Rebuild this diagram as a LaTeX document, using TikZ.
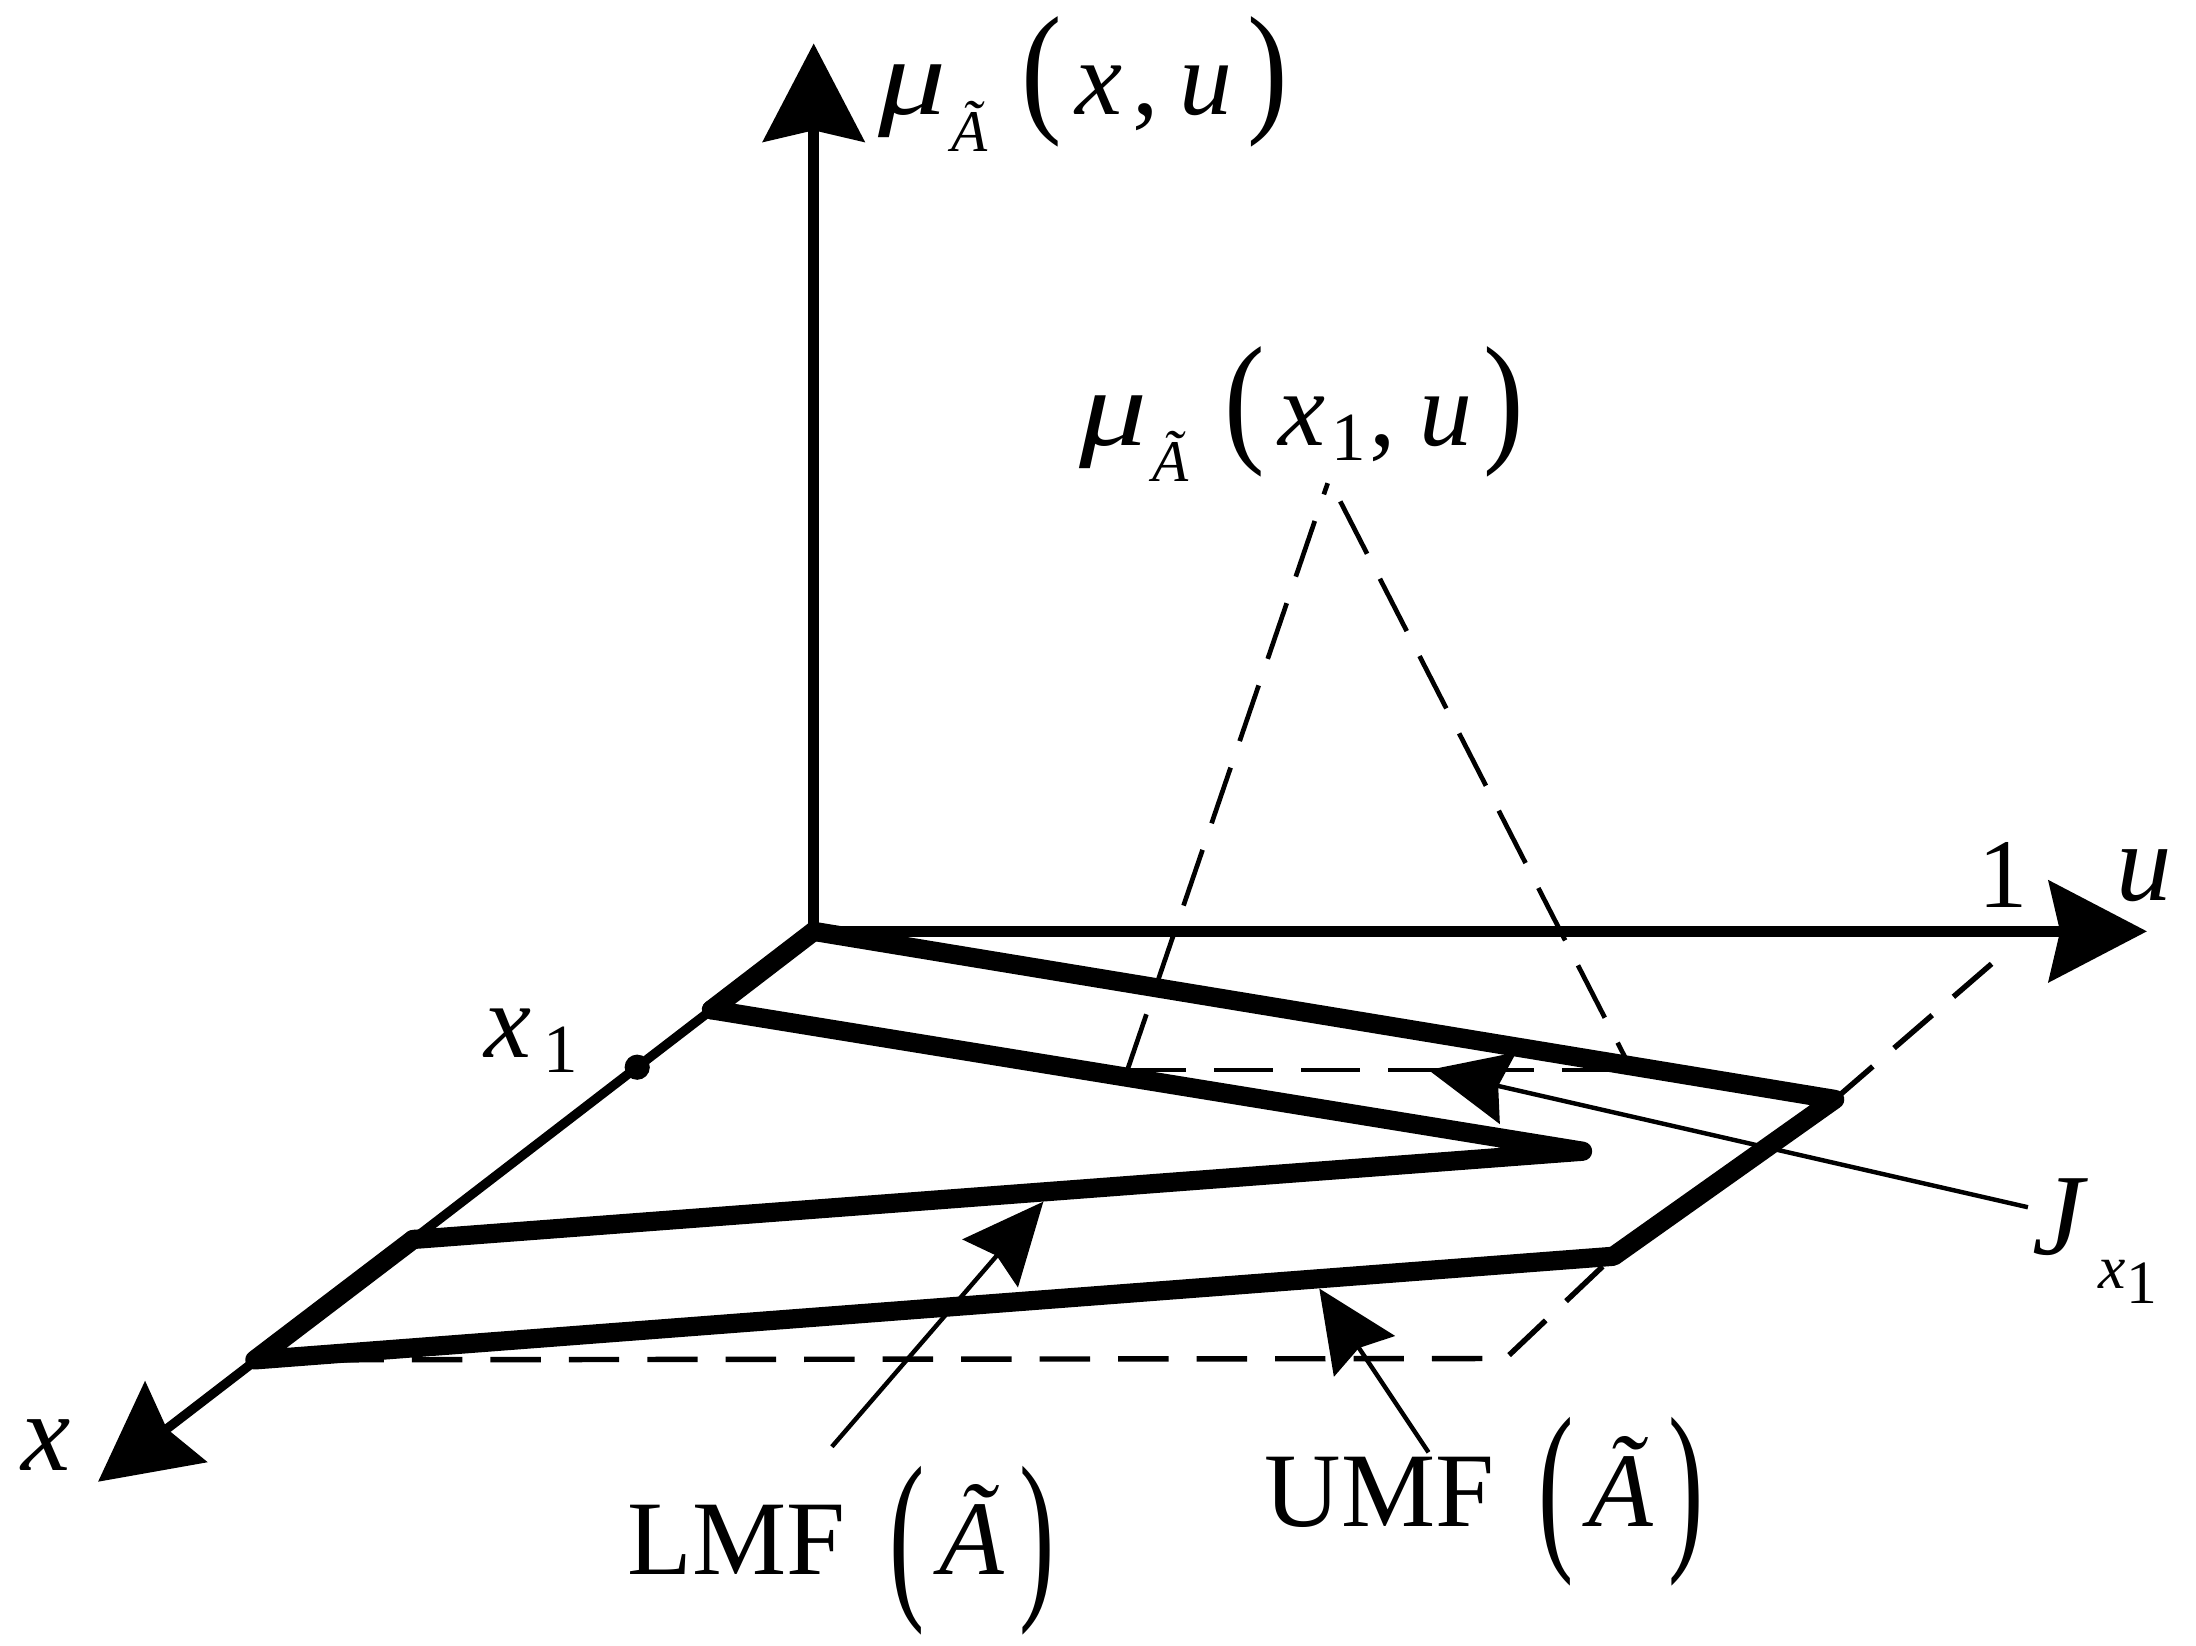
\documentclass[tikz,border=0pt]{standalone}
\usepackage{fontspec}
\setmainfont{Liberation Serif}
\usepackage{graphicx}
\usetikzlibrary{arrows.meta}
\newcommand{\sparen}[4]{\raisebox{#4}{\scalebox{#2}[#3]{#1}}}
\newcommand{\musym}{\scalebox{1.25}[1]{\fontsize{22}{22}\selectfont\textit{μ}}}
\newcommand{\subA}{\raisebox{-7.4pt}{\fontsize{12}{12}\selectfont\textit{Ã}}}
\newcommand{\subone}{\raisebox{-3.1pt}{\fontsize{14}{14}\selectfont 1}}
\begin{document}
\begin{tikzpicture}[x=0.01cm,y=-0.01cm,
  axis/.style={line width=2.2pt},
  bigtip/.style={-{Stealth[length=0.70cm,width=0.72cm,inset=0.08cm]}},
  mf/.style={line width=3.9pt,line cap=round,line join=round},
  pointer/.style={line width=0.9pt},
  smalltip/.style={-{Stealth[length=0.58cm,width=0.52cm,inset=0.07cm]}},
  dshA/.style={line width=0.95pt,dash pattern=on 0.42cm off 0.20cm},
  dshB/.style={line width=1.1pt,dash pattern=on 0.36cm off 0.20cm},
  lbl/.style={inner sep=0pt,outer sep=0pt,font=\fontsize{21.5}{26}\selectfont}
]
\useasboundingbox (0,0) rectangle (1568,1175);
% key points
\coordinate (O) at (581,665);
\coordinate (Ztip) at (581,31);
\coordinate (Utip) at (1533,665);
\coordinate (Xtip) at (70,1058);
\coordinate (P1) at (508,721);
\coordinate (Dot) at (455,762);
\coordinate (P2) at (295,885);
\coordinate (P3) at (182,971);
\coordinate (U1) at (1310,785);
\coordinate (U2) at (1152,897);
\coordinate (L1) at (1130,822);
\coordinate (D1) at (1075,970);
\coordinate (D2) at (1435,677);
\coordinate (Ta) at (948,345);
\coordinate (Tb) at (957,358);
\coordinate (Bl) at (805,764);
\coordinate (Br) at (1165,764);
\coordinate (Jtip) at (1020,764);
\coordinate (Jend) at (1448,862);
\coordinate (Ltip) at (745,858);
\coordinate (Lend) at (594,1033);
\coordinate (Mtip) at (942,920);
\coordinate (Mend) at (1020,1037);

% dashed construction lines
\draw[dshB] (P3) -- (D1) -- (U2);
\draw[dshB] (U1) -- (D2);
\draw[dshA] (Bl) -- (Ta);
\draw[dshA] (Tb) -- (Br);
\draw[dshA] (Bl) -- (Br);

% axes
\draw[axis,bigtip] (O) -- (Ztip);
\draw[axis,bigtip] (O) -- (Utip);
\draw[axis,line width=1.9pt,bigtip] (O) -- (Xtip);

% membership function footprint
\draw[mf] (O) -- (U1) -- (U2) -- (P3) -- (P2);
\draw[mf] (P1) -- (L1) -- (P2);
\draw[mf] (O) -- (P1);
\fill (Dot) circle[radius=9];

% pointers
\draw[pointer,smalltip] (Jend) -- (Jtip);
\draw[pointer,smalltip] (Lend) -- (Ltip);
\draw[pointer,smalltip] (Mend) -- (Mtip);

% labels
\node[lbl,anchor=base west] (lblmu) at (627,82)
  {\musym\kern1pt\subA\kern7pt\sparen{(}{1.15}{1.36}{-0.3pt}\kern2.7pt\textit{x}\kern2pt,\kern4.1pt\textit{u}\kern3.1pt\sparen{)}{1.15}{1.36}{-0.3pt}};
\node[lbl,anchor=base west] (lblmux) at (771,318)
  {\musym\kern1pt\subA\kern7.3pt\sparen{(}{1.15}{1.36}{-0.3pt}\kern2.7pt\textit{x}\kern1.1pt\subone\kern0.8pt,\kern4.7pt\textit{u}\kern2.3pt\sparen{)}{1.15}{1.36}{-0.3pt}};
\node[lbl,anchor=base west] (lblxone) at (346,755)
  {\textit{x}\kern2.5pt\subone};
\node[lbl,anchor=base west,font=\fontsize{22.5}{26}\selectfont] (lblx) at (15,1050) {\textit{x}};
\node[lbl,anchor=base west,font=\fontsize{20}{24}\selectfont] (lblone) at (1413,648) {1};
\node[lbl,anchor=base west,font=\fontsize{22.5}{26}\selectfont] (lblu) at (1511,643) {\textit{u}};
\node[lbl,anchor=base west,font=\fontsize{23.5}{26}\selectfont] (lblJ) at (1451,896)
  {\textit{J}\kern2.2pt\raisebox{-6.8pt}{\fontsize{12.5}{12.5}\selectfont\textit{x}\raisebox{-3.1pt}{1}}};
\node[lbl,anchor=base west] (lblLMF) at (448,1124.5)
  {LMF\kern9pt\sparen{(}{1}{1.76}{-4.1pt}\kern3pt\textit{Ã}\kern3pt\sparen{)}{1}{1.76}{-4.1pt}};
\node[lbl,anchor=base west] (lblUMF) at (903,1090)
  {UMF\kern9pt\sparen{(}{1}{1.76}{-4.1pt}\kern3pt\textit{Ã}\kern3pt\sparen{)}{1}{1.76}{-4.1pt}};
\end{tikzpicture}
\end{document}
